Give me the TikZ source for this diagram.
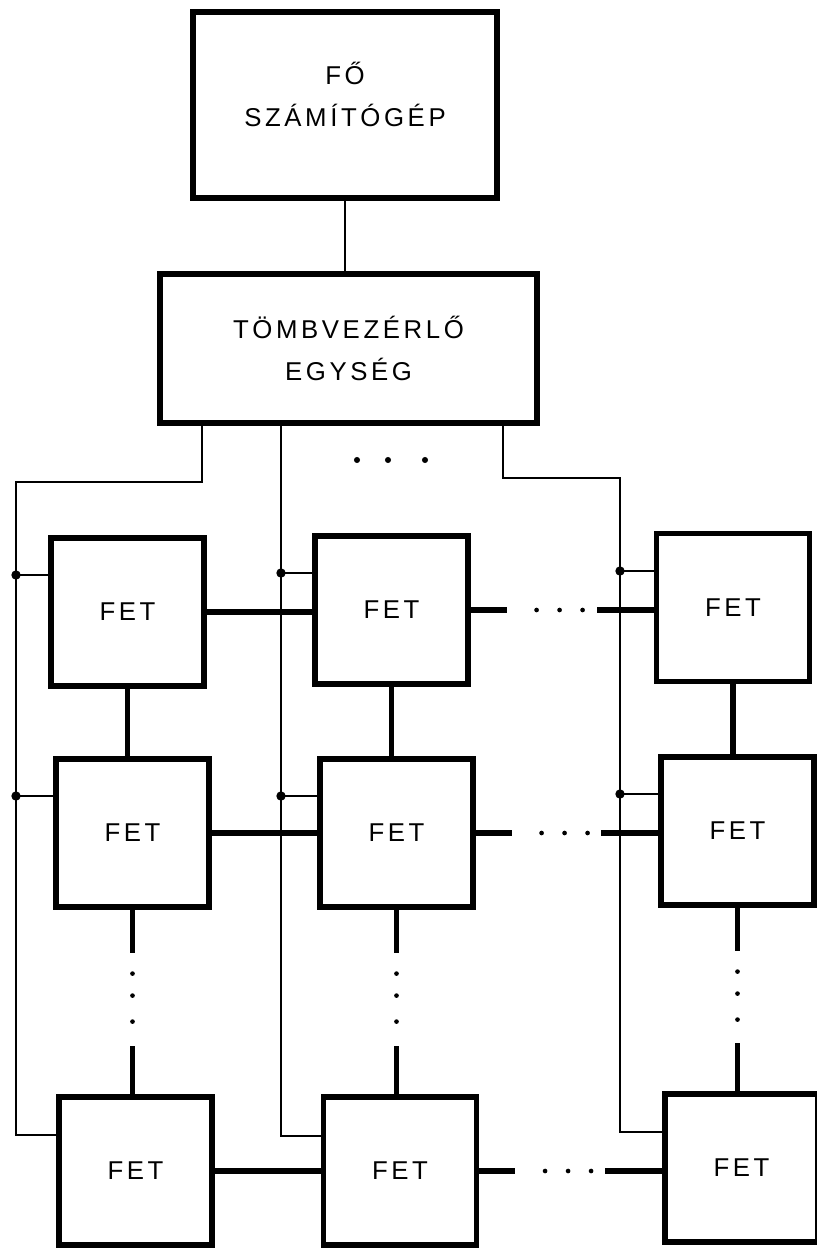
\documentclass[tikz,border=0pt]{standalone}
\usepackage{fontspec}
\newfontfamily\letterfont[LetterSpace=14]{Liberation Sans}
\usetikzlibrary{calc}

\begin{document}
\begin{tikzpicture}[x=0.03cm,y=-0.03cm]
	\tikzstyle{every node}=[font=\letterfont\fontsize{22}{36}\selectfont]
	\tikzstyle{bigbox}=[draw, line width=4.4pt, align=center, inner sep=0pt]
	\tikzstyle{fetbox}=[draw, line width=4.4pt, minimum width=4.59cm, minimum height=4.44cm, inner sep=0pt]
	\tikzstyle{bus}=[line width=2.4pt]
	\tikzstyle{link}=[line width=4.4pt]

	\useasboundingbox (0,0) rectangle (817,1248);

	%% boxes
	\node [bigbox, minimum width=9.12cm, minimum height=5.58cm,
		label={[align=center, yshift=9pt]center:FŐ\\SZÁMÍTÓGÉP}] (host) at (345,105) {};
	\node [bigbox, minimum width=11.31cm, minimum height=4.47cm] (ctrl) at (348.5,348.5) {TÖMBVEZÉRLŐ\\EGYSÉG};

	\node [fetbox] (f11) at (127.5,612) {FET};
	\node [fetbox] (f21) at (132.5,833) {FET};
	\node [fetbox] (f31) at (135.5,1171) {FET};
	\node [fetbox] (f12) at (391.5,610) {FET};
	\node [fetbox] (f22) at (396.5,833) {FET};
	\node [fetbox] (f32) at (400,1171) {FET};
	\node [fetbox] (f13) at (733,607.5) {FET};
	\node [fetbox] (f23) at (737.5,831) {FET};
	\node [fetbox] (f33) at (741.5,1168) {FET};

	%% host to controller
	\draw [bus] (host.south) -- (host.south |- ctrl.north);

	%% control buses
	\coordinate (t1) at (202,482);
	\coordinate (b1) at (16,482);
	\coordinate (e1) at (16,1135);
	\coordinate (j11) at (16,575);
	\coordinate (j21) at (16,796);
	\draw [bus] (ctrl.south -| t1) -- (t1) -- (b1) -- (e1) -- (e1 -| f31.west);
	\draw [bus] (j11) -- (j11 -| f11.west);
	\draw [bus] (j21) -- (j21 -| f21.west);

	\coordinate (e2) at (281,1136);
	\coordinate (j12) at (281,573);
	\coordinate (j22) at (281,796);
	\draw [bus] (ctrl.south -| e2) -- (e2) -- (e2 -| f32.west);
	\draw [bus] (j12) -- (j12 -| f12.west);
	\draw [bus] (j22) -- (j22 -| f22.west);

	\coordinate (t3) at (503,478);
	\coordinate (b3) at (620,478);
	\coordinate (e3) at (620,1132);
	\coordinate (j13) at (620,571);
	\coordinate (j23) at (620,794);
	\draw [bus] (ctrl.south -| t3) -- (t3) -- (b3) -- (e3) -- (e3 -| f33.west);
	\draw [bus] (j13) -- (j13 -| f13.west);
	\draw [bus] (j23) -- (j23 -| f23.west);

	\foreach \j in {j11,j21,j12,j22,j13,j23}
		\fill (\j) circle [radius=4pt];

	\foreach \x in {357,388,425}
		\fill (\x,460) circle [radius=2.6pt];

	%% array links
	\draw [link] (f11.east) -- (f11.east -| f12.west);
	\draw [link] (f21.east) -- (f21.east -| f22.west);
	\draw [link] (f31.east) -- (f31.east -| f32.west);
	\draw [link] (f11.south) -- (f11.south |- f21.north);
	\draw [link] (f12.south) -- (f12.south |- f22.north);
	\draw [link] (f13.south) -- (f13.south |- f23.north);

	\foreach \a/\b in {f12/f13,f22/f23,f32/f33} {
		\draw [link] (\a.east) -- +(36,0);
		\draw [link] (\a.east -| \b.west) -- +(-57,0);
		\foreach \d in {66,89,112}
			\fill (\a.east) ++(\d,0) circle [radius=2pt];
	}

	\foreach \a/\b in {f21/f31,f22/f32,f23/f33} {
		\draw [link] (\a.south) -- +(0,43);
		\draw [link] (\a.south |- \b.north) -- +(0,-48);
		\foreach \d in {64,86,112}
			\fill (\a.south) ++(0,\d) circle [radius=2pt];
	}

\end{tikzpicture}
\end{document}
